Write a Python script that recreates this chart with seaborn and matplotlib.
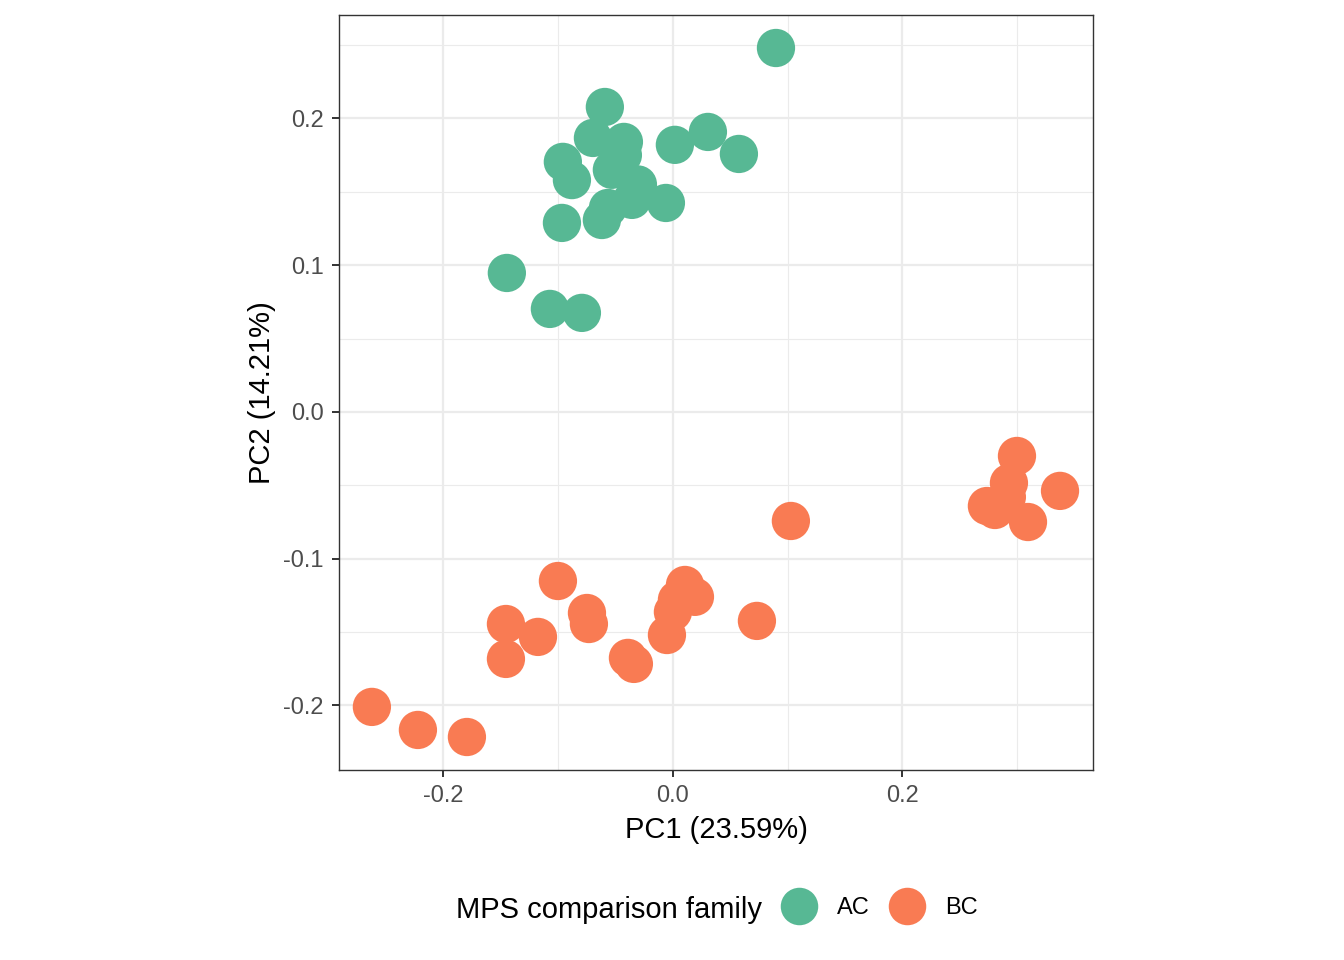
import pandas as pd
import seaborn as sns
import matplotlib as mpl
import matplotlib.pyplot as plt
from matplotlib.lines import Line2D
from matplotlib.ticker import MultipleLocator

sns.set_style("white")
plt.rcParams['font.family'] = ['Liberation Sans', 'DejaVu Sans']
plt.rcParams['axes.unicode_minus'] = False
plt.rcParams['text.color'] = 'black'

# PCA scores
ac_pc1 = [0.0898, -0.0593, -0.0697, -0.0427, -0.0959, -0.0880, -0.0532, -0.0436,
          -0.0305, -0.0357, -0.0566, -0.0619, -0.0061, -0.0967, 0.0017, 0.0305,
          0.0575, -0.1447, -0.1072, -0.0793]
ac_pc2 = [0.2480, 0.2078, 0.1867, 0.1840, 0.1704, 0.1580, 0.1650, 0.1750,
          0.1550, 0.1445, 0.1390, 0.1308, 0.1424, 0.1288, 0.1820, 0.1908,
          0.1758, 0.0947, 0.0702, 0.0675]
bc_pc1 = [-0.2623, -0.2222, -0.1795, -0.1455, -0.1455, -0.1176, -0.1002, -0.0749,
          -0.0732, -0.0392, -0.0340, -0.0052, 0.0000, 0.0035, 0.0105, 0.0192,
          0.0732, 0.1028, 0.2998, 0.2928, 0.3373, 0.2736, 0.2806, 0.3094, 0.2910]
bc_pc2 = [-0.2010, -0.2167, -0.2215, -0.1445, -0.1683, -0.1533, -0.1152, -0.1370,
          -0.1445, -0.1676, -0.1717, -0.1520, -0.1363, -0.1280, -0.1179, -0.1260,
          -0.1424, -0.0743, -0.0300, -0.0484, -0.0538, -0.0641, -0.0668, -0.0750,
          -0.0580]
families = ["AC", "BC"]
colors = {"AC": "#57B894", "BC": "#F97B53"}

df = pd.DataFrame({
    "PC1": ac_pc1 + bc_pc1,
    "PC2": ac_pc2 + bc_pc2,
    "family": ["AC"] * len(ac_pc1) + ["BC"] * len(bc_pc1),
})

fig = plt.figure(figsize=(13.44, 9.6), dpi=100)
ax = fig.add_axes([0.2522, 0.1979, 0.8132 - 0.2522, 0.9844 - 0.1979])

sns.scatterplot(data=df, x="PC1", y="PC2", hue="family", hue_order=families,
                palette=colors, s=760, linewidth=0, alpha=1, legend=False, ax=ax,
                zorder=3)

ax.set_xlim(-0.291, 0.366)
ax.set_ylim(-0.244, 0.2705)
ax.xaxis.set_major_locator(MultipleLocator(0.2))
ax.xaxis.set_minor_locator(MultipleLocator(0.1))
ax.yaxis.set_major_locator(MultipleLocator(0.1))
ax.yaxis.set_minor_locator(MultipleLocator(0.05))
ax.xaxis.set_major_formatter(mpl.ticker.FuncFormatter(lambda v, p: f"{v:.1f}"))
ax.yaxis.set_major_formatter(mpl.ticker.FuncFormatter(lambda v, p: f"{v:.1f}"))

ax.grid(which="major", color="#EBEBEB", linewidth=1.6)
ax.grid(which="minor", color="#EBEBEB", linewidth=0.8)
ax.set_axisbelow(True)
for sp in ax.spines.values():
    sp.set_color("#333333")
    sp.set_linewidth(1.0)

ax.tick_params(which="major", length=5, width=1.4, color="#333333",
               labelsize=17, labelcolor="#4D4D4D", pad=6,
               bottom=True, left=True)
ax.tick_params(which="minor", length=0)

ax.set_xlabel("PC1 (23.59%)", fontsize=21, color="black", labelpad=6)
ax.set_ylabel("PC2 (14.21%)", fontsize=21, color="black", labelpad=5)

handles = [Line2D([], [], marker="o", linestyle="", markersize=27,
                  markerfacecolor=colors[f], markeredgewidth=0) for f in families]
fig.legend(handles, families, loc="center left", bbox_to_anchor=(0.5804, 0.0542),
           bbox_transform=fig.transFigure, ncol=2, frameon=False, fontsize=17,
           handlelength=1.6, handletextpad=0.8, columnspacing=0.8,
           borderpad=0, borderaxespad=0, labelcolor="black")
fig.text(762 / 1344, 1 - 910 / 960, "MPS comparison family", fontsize=21,
         ha="right", va="center", color="black")

fig.savefig("out.png", dpi=100, facecolor="white")
